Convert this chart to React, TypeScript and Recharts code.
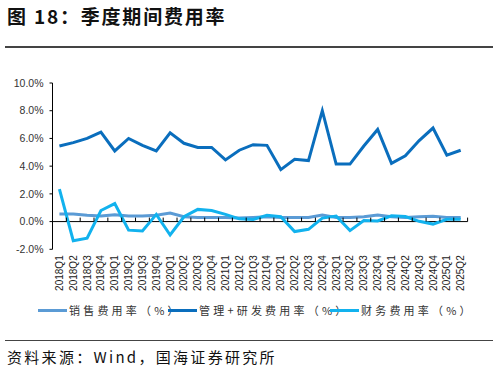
import { LineChart, Line, XAxis, YAxis, ReferenceLine } from "recharts";

const QUARTERS = [
  "2018Q1", "2018Q2", "2018Q3", "2018Q4",
  "2019Q1", "2019Q2", "2019Q3", "2019Q4",
  "2020Q1", "2020Q2", "2020Q3", "2020Q4",
  "2021Q1", "2021Q2", "2021Q3", "2021Q4",
  "2022Q1", "2022Q2", "2022Q3", "2022Q4",
  "2023Q1", "2023Q2", "2023Q3", "2023Q4",
  "2024Q1", "2024Q2", "2024Q3", "2024Q4",
  "2025Q1", "2025Q2",
];

// 销售费用率 (%)
const SALES_RATE = [
  0.55, 0.55, 0.45, 0.4, 0.5, 0.4, 0.4, 0.45, 0.62, 0.35,
  0.3, 0.3, 0.3, 0.25, 0.3, 0.35, 0.3, 0.3, 0.3, 0.48,
  0.3, 0.3, 0.35, 0.48, 0.35, 0.3, 0.35, 0.38, 0.3, 0.3,
];

// 管理+研发费用率 (%)
const MGMT_RD_RATE = [
  5.45, 5.7, 6.0, 6.45, 5.1, 6.0, 5.5, 5.1, 6.4, 5.65,
  5.35, 5.35, 4.45, 5.15, 5.55, 5.5, 3.75, 4.5, 4.4, 8.0,
  4.15, 4.15, 5.45, 6.65, 4.2, 4.75, 5.85, 6.75, 4.8, 5.15,
];

// 财务费用率 (%)
const FINANCE_RATE = [
  2.35, -1.38, -1.2, 0.8, 1.3, -0.62, -0.68, 0.52, -0.97, 0.35,
  0.88, 0.8, 0.52, 0.2, 0.15, 0.45, 0.35, -0.72, -0.56, 0.25,
  0.4, -0.65, 0.08, 0.05, 0.42, 0.36, 0.02, -0.18, 0.17, 0.17,
];

const Y_TICKS = [-2, 0, 2, 4, 6, 8, 10];

const SERIES = [
  { key: "sales", name: "销售费用率（%）", color: "#5B9BD5", values: SALES_RATE, legendX: 38 },
  { key: "mgmt", name: "管理+研发费用率（%）", color: "#0A6EBD", values: MGMT_RD_RATE, legendX: 168 },
  { key: "fin", name: "财务费用率（%）", color: "#12B2EE", values: FINANCE_RATE, legendX: 330 },
];

const data = QUARTERS.map((q, i) => ({
  q,
  sales: SALES_RATE[i],
  mgmt: MGMT_RD_RATE[i],
  fin: FINANCE_RATE[i],
}));

const W = 498;
const H = 377;
const PLOT_TOP = 83;
const PLOT_BOTTOM = 249.3;
const PLOT_LEFT = 52.5;
const PLOT_RIGHT = 467.6;
const PLOT_H = PLOT_BOTTOM - PLOT_TOP;
const BAND = (PLOT_RIGHT - PLOT_LEFT) / QUARTERS.length;
const TICK_MARGIN = 6;
const X_AXIS_H = 40;

const cjk = '"Noto Sans CJK SC", "Noto Sans", sans-serif';
const latin = '"Liberation Sans", Arial, sans-serif';

function QuarterTick(props: any) {
  const { x, y, payload, index } = props;
  // zero line sits 2/12 of the plot height above the plot bottom
  const zeroRel = -(TICK_MARGIN + (PLOT_H * 2) / 12);
  return (
    <g transform={`translate(${x},${y})`}>
      <line x1={-BAND / 2} x2={-BAND / 2} y1={zeroRel} y2={zeroRel - 4} stroke="#000" strokeWidth={1} />
      {index === QUARTERS.length - 1 && (
        <line x1={BAND / 2} x2={BAND / 2} y1={zeroRel} y2={zeroRel - 4} stroke="#000" strokeWidth={1} />
      )}
      <text
        transform="rotate(-90)"
        textAnchor="end"
        dy="0.35em"
        fontSize={10}
        fontFamily={latin}
        fill="#222"
      >
        {payload.value}
      </text>
    </g>
  );
}

export default function App() {
  return (
    <div style={{ position: "absolute", left: 0, top: 0, width: W, height: H, background: "#fff", overflow: "hidden" }}>
      <div
        style={{
          position: "absolute",
          left: 7,
          top: 6,
          lineHeight: "20px",
          fontSize: 19,
          fontWeight: 700,
          letterSpacing: 1.8,
          fontFamily: cjk,
          color: "#111",
          whiteSpace: "nowrap",
        }}
      >
        图 18：季度期间费用率
      </div>
      <div style={{ position: "absolute", left: 5, top: 46, width: 488, height: 1.5, background: "#444" }} />

      <div style={{ position: "absolute", left: 0, top: 0 }}>
        <LineChart
          width={W}
          height={H}
          data={data}
          margin={{ top: PLOT_TOP, right: W - PLOT_RIGHT, left: 0, bottom: H - PLOT_BOTTOM - X_AXIS_H }}
        >
          <XAxis
            dataKey="q"
            interval={0}
            height={X_AXIS_H}
            axisLine={false}
            tickLine={false}
            tickSize={0}
            tickMargin={TICK_MARGIN}
            padding={{ left: BAND / 2, right: BAND / 2 }}
            tick={<QuarterTick />}
          />
          <YAxis
            width={PLOT_LEFT}
            domain={[-2, 10]}
            ticks={Y_TICKS}
            interval={0}
            axisLine={{ stroke: "#000", strokeWidth: 1 }}
            tickLine={{ stroke: "#000", strokeWidth: 1 }}
            tickSize={3}
            tickMargin={6}
            tick={{ fontSize: 10.5, fill: "#333", fontFamily: latin }}
            tickFormatter={(v: number) => `${v.toFixed(1)}%`}
          />
          <ReferenceLine y={0} stroke="#000" strokeWidth={1} />
          {SERIES.map((s) => (
            <Line
              key={s.key}
              dataKey={s.key}
              name={s.name}
              type="linear"
              stroke={s.color}
              strokeWidth={3}
              dot={false}
              isAnimationActive={false}
            />
          ))}
        </LineChart>
      </div>

      {SERIES.map((s) => (
        <div key={s.key}>
          <div style={{ position: "absolute", left: s.legendX, top: 308.5, width: 29, height: 3, background: s.color }} />
          <div
            style={{
              position: "absolute",
              left: s.legendX + 31,
              top: 303,
              lineHeight: "14px",
              fontSize: 11,
              letterSpacing: 3.2,
              fontFamily: cjk,
              color: "#333",
              whiteSpace: "nowrap",
            }}
          >
            {s.name}
          </div>
        </div>
      ))}

      <div style={{ position: "absolute", left: 5, top: 339.5, width: 488, height: 1.5, background: "#444" }} />
      <div
        style={{
          position: "absolute",
          left: 7,
          top: 348,
          lineHeight: "18px",
          fontSize: 15,
          letterSpacing: 2.3,
          fontFamily: cjk,
          color: "#111",
          whiteSpace: "nowrap",
        }}
      >
        资料来源：Wind，国海证券研究所
      </div>
    </div>
  );
}
